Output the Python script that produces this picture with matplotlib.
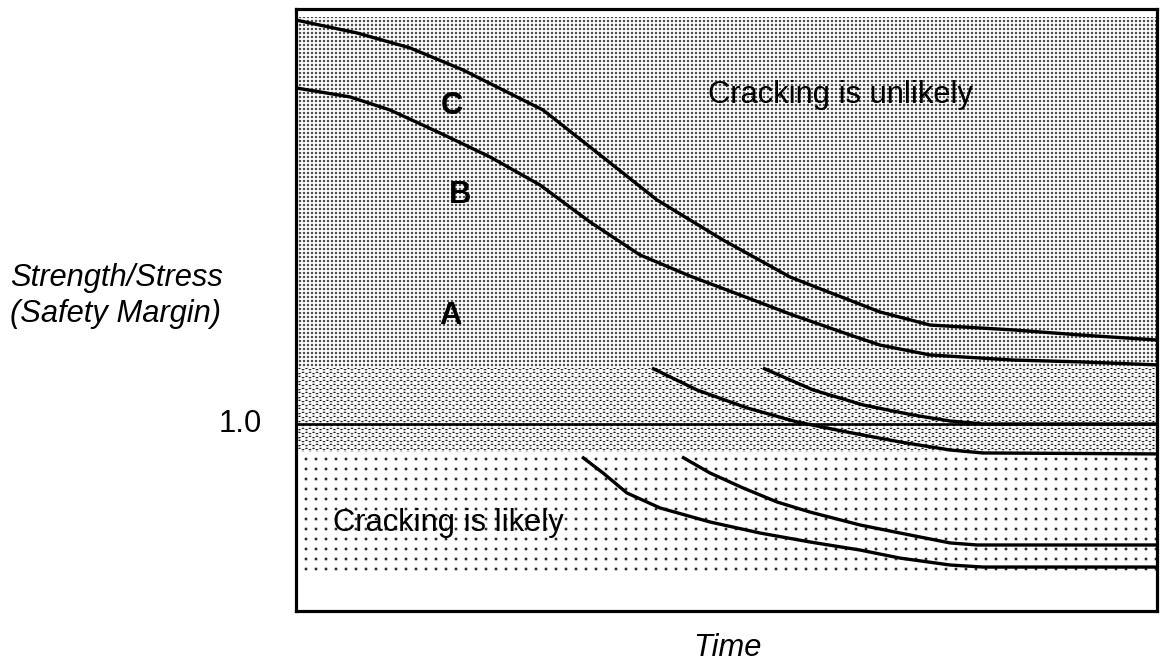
import matplotlib
matplotlib.use("Agg")
import matplotlib.pyplot as plt
import numpy as np

plt.rcParams['font.family'] = ['Liberation Sans', 'DejaVu Sans']

# ---- data (time in % of span, safety margin = strength/stress) ----
curve_c_t = [0, 7.08, 13.24, 19.40, 24.04, 28.69, 34.15, 41.93, 49.59, 57.38, 61.21, 67.83, 73.64, 83.28, 91.06, 100]
curve_c_m = [3.160, 3.091, 3.011, 2.893, 2.786, 2.679, 2.481, 2.198, 1.984, 1.786, 1.717, 1.599, 1.529, 1.503, 1.476, 1.449]

curve_b_t = [0, 6.27, 10.92, 16.72, 22.53, 28.34, 34.15, 39.95, 45.76, 51.57, 57.38, 64.34, 67.83, 73.64, 83.28, 91.06, 100]
curve_b_m = [2.797, 2.749, 2.679, 2.556, 2.428, 2.278, 2.080, 1.904, 1.791, 1.690, 1.588, 1.476, 1.422, 1.369, 1.342, 1.332, 1.316]

low1_t = [41.35, 46.57, 52.38, 58.19, 64.00, 70.15, 75.96, 79.79, 100]
low1_m = [1.299, 1.182, 1.086, 1.011, 0.957, 0.904, 0.861, 0.845, 0.840]

low2_t = [54.24, 60.05, 65.85, 71.66, 75.96, 79.79, 100]
low2_m = [1.299, 1.182, 1.102, 1.048, 1.016, 1.000, 1.000]

low3_t = [33.22, 35.66, 38.44, 42.28, 48.08, 53.89, 59.70, 65.51, 70.15, 75.96, 79.79, 100]
low3_m = [0.824, 0.738, 0.631, 0.551, 0.476, 0.417, 0.369, 0.326, 0.283, 0.246, 0.235, 0.235]

low4_t = [44.83, 48.08, 51.92, 55.87, 59.70, 65.51, 70.15, 75.96, 79.09, 100]
low4_m = [0.824, 0.738, 0.658, 0.583, 0.529, 0.460, 0.417, 0.364, 0.353, 0.353]

threshold = 1.0
zone_bounds = [3.176, 1.30, 0.85, 0.209]   # dense / medium / sparse zone edges
y_top = 3.219

# stipple styles (pixel spacing x, spacing y, row offset, dot radius)
zone_styles = [(4, 4, 0, 0.7), (7, 4, 3.5, 0.85), (10, 10, 0, 0.9)]

DPI = 120
fig = plt.figure(figsize=(1165 / DPI, 664 / DPI), dpi=DPI)
ax = fig.add_axes([296 / 1165, 53 / 664, 861 / 1165, 602 / 664])
ax.set_xlim(0, 100)
ax.set_ylim(0, y_top)

# build stipple texture at screen resolution
W, H = 861, 602
X, Y = np.meshgrid(np.arange(W) + 0.5, np.arange(H) + 0.5)
yval = y_top * (1 - Y / H)
img = np.ones((H, W))


def stipple(sx, sy, off, r):
    row = np.floor(Y / sy)
    xs = X - (row % 2) * off
    dx = ((xs + sx / 2) % sx) - sx / 2
    dy = ((Y + sy / 2) % sy) - sy / 2
    return np.clip(1.15 * np.exp(-(dx ** 2 + dy ** 2) / (2 * r ** 2)), 0, 1)


for i, (sx, sy, off, r) in enumerate(zone_styles):
    mask = (yval <= zone_bounds[i]) & (yval > zone_bounds[i + 1])
    img[mask] = 1 - stipple(sx, sy, off, r)[mask]

ax.imshow(img, cmap='gray', vmin=0, vmax=1, extent=[0, 100, 0, y_top],
          aspect='auto', interpolation='none', zorder=1)

lw = 2.0
ax.axhline(threshold, color='black', lw=1.6, zorder=3)
for t, m in [(curve_c_t, curve_c_m), (curve_b_t, curve_b_m), (low1_t, low1_m),
             (low2_t, low2_m), (low3_t, low3_m), (low4_t, low4_m)]:
    ax.plot(t, m, color='black', lw=lw, solid_capstyle='butt', solid_joinstyle='round', zorder=4)

fs = 18.5
ax.text(47.85, 2.759, 'Cracking is unlikely', fontsize=fs, ha='left', va='center', zorder=5)
ax.text(4.30, 0.471, 'Cracking is likely', fontsize=fs, ha='left', va='center', zorder=5)
ax.text(18.12, 2.701, 'C', fontsize=fs, fontweight='bold', ha='center', va='center', zorder=5)
ax.text(19.05, 2.225, 'B', fontsize=fs, fontweight='bold', ha='center', va='center', zorder=5)
ax.text(17.89, 1.578, 'A', fontsize=fs, fontweight='bold', ha='center', va='center', zorder=5)

ax.text(-0.0395, threshold, '1.0', fontsize=fs, ha='right', va='center',
        transform=ax.get_yaxis_transform())
fig.text(10 / 1165, 1 - 278 / 664, 'Strength/Stress', fontsize=fs, style='italic', ha='left', va='center')
fig.text(10 / 1165, 1 - 314 / 664, '(Safety Margin)', fontsize=fs, style='italic', ha='left', va='center')
fig.text(727 / 1165, 1 - 648 / 664, 'Time', fontsize=fs, style='italic', ha='center', va='center')

ax.set_xticks([])
ax.set_yticks([])
for s in ax.spines.values():
    s.set_linewidth(1.9)
    s.set_zorder(6)

fig.savefig('out.png', dpi=DPI)
